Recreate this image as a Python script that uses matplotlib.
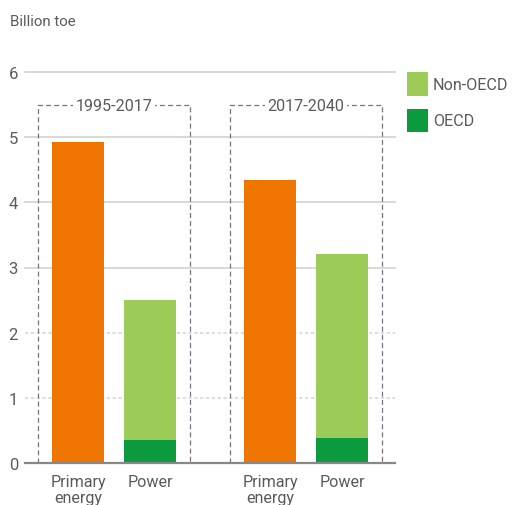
import matplotlib
matplotlib.use("Agg")
import matplotlib.pyplot as plt
from matplotlib.patches import Rectangle

plt.rcParams['font.family'] = ['Roboto', 'DejaVu Sans']

periods = ["1995-2017", "2017-2040"]
categories = ["Primary\nenergy", "Power"]
primary_energy = [4.93, 4.34]
power_oecd = [0.35, 0.38]
power_non_oecd = [2.15, 2.83]
yticks = [0, 1, 2, 3, 4, 5, 6]

C_ORANGE = "#F07400"
C_LIGHT = "#9CCB57"
C_DARK = "#0B9A3D"
C_TEXT = "#5A5A5A"
FS = 11.6

fig = plt.figure(figsize=(5.15, 5.06), dpi=100)
ax = fig.add_axes([25/515, (506-464)/506, 370/515, (464-73)/506])

group_centers = [0.5, 3.1667]
w = 0.722
for g, gc in enumerate(group_centers):
    xp = gc - 0.5
    xw = gc + 0.5
    ax.bar(xp, primary_energy[g], width=w, color=C_ORANGE, zorder=3)
    ax.bar(xw, power_oecd[g], width=w, color=C_DARK, zorder=3)
    ax.bar(xw, power_non_oecd[g], width=w, bottom=power_oecd[g], color=C_LIGHT, zorder=3)
    # dashed box
    bx0, bx1, btop = gc - 1.056, gc + 1.056, 5.49
    ax.plot([bx0, bx0, bx1, bx1], [0, btop, btop, 0], ls=(0, (4, 2.5)), color="#777777",
            lw=0.9, zorder=2, clip_on=False)
    ax.text(gc, btop, periods[g], ha="center", va="center", fontsize=FS, color=C_TEXT,
            bbox=dict(facecolor="white", edgecolor="none", pad=2), zorder=4)
    for xx, lab in zip([xp, xw], categories):
        ax.text(xx, -0.17, lab, ha="center", va="top", fontsize=FS, color=C_TEXT,
                linespacing=1.05, clip_on=False)

ax.set_xlim(-0.736, 4.403)
ax.set_ylim(0, 6)
ax.set_yticks(yticks)
ax.set_yticklabels([str(t) for t in yticks], fontsize=12, color=C_TEXT)
ax.tick_params(axis="y", length=0, pad=5)
ax.set_xticks([])
for s in ax.spines.values():
    s.set_visible(False)
for t in yticks[1:]:
    if t <= 2:
        ax.axhline(t, color="#D4D7E0", lw=1.2, ls=(0, (2, 1.5)), zorder=1, clip_on=False)
    else:
        ax.axhline(t, color="#D6DAD4", lw=1.4, zorder=1, clip_on=False)
ax.axhline(0, color="#888888", lw=1.6, zorder=4, clip_on=False)

# legend
fig.patches.append(Rectangle((407/515, (506-97)/506), 21/515, 24/506, transform=fig.transFigure,
                             facecolor=C_LIGHT, edgecolor="none"))
fig.patches.append(Rectangle((407/515, (506-133)/506), 21/515, 23/506, transform=fig.transFigure,
                             facecolor=C_DARK, edgecolor="none"))
fig.text(433/515, (506-85)/506, "Non-OECD", fontsize=FS, color=C_TEXT, va="center")
fig.text(433/515, (506-122)/506, "OECD", fontsize=FS, color=C_TEXT, va="center")

fig.text(10/515, (506-22)/506, "Billion toe", fontsize=10.8, color=C_TEXT, va="center")

fig.savefig("out.png", dpi=100)
